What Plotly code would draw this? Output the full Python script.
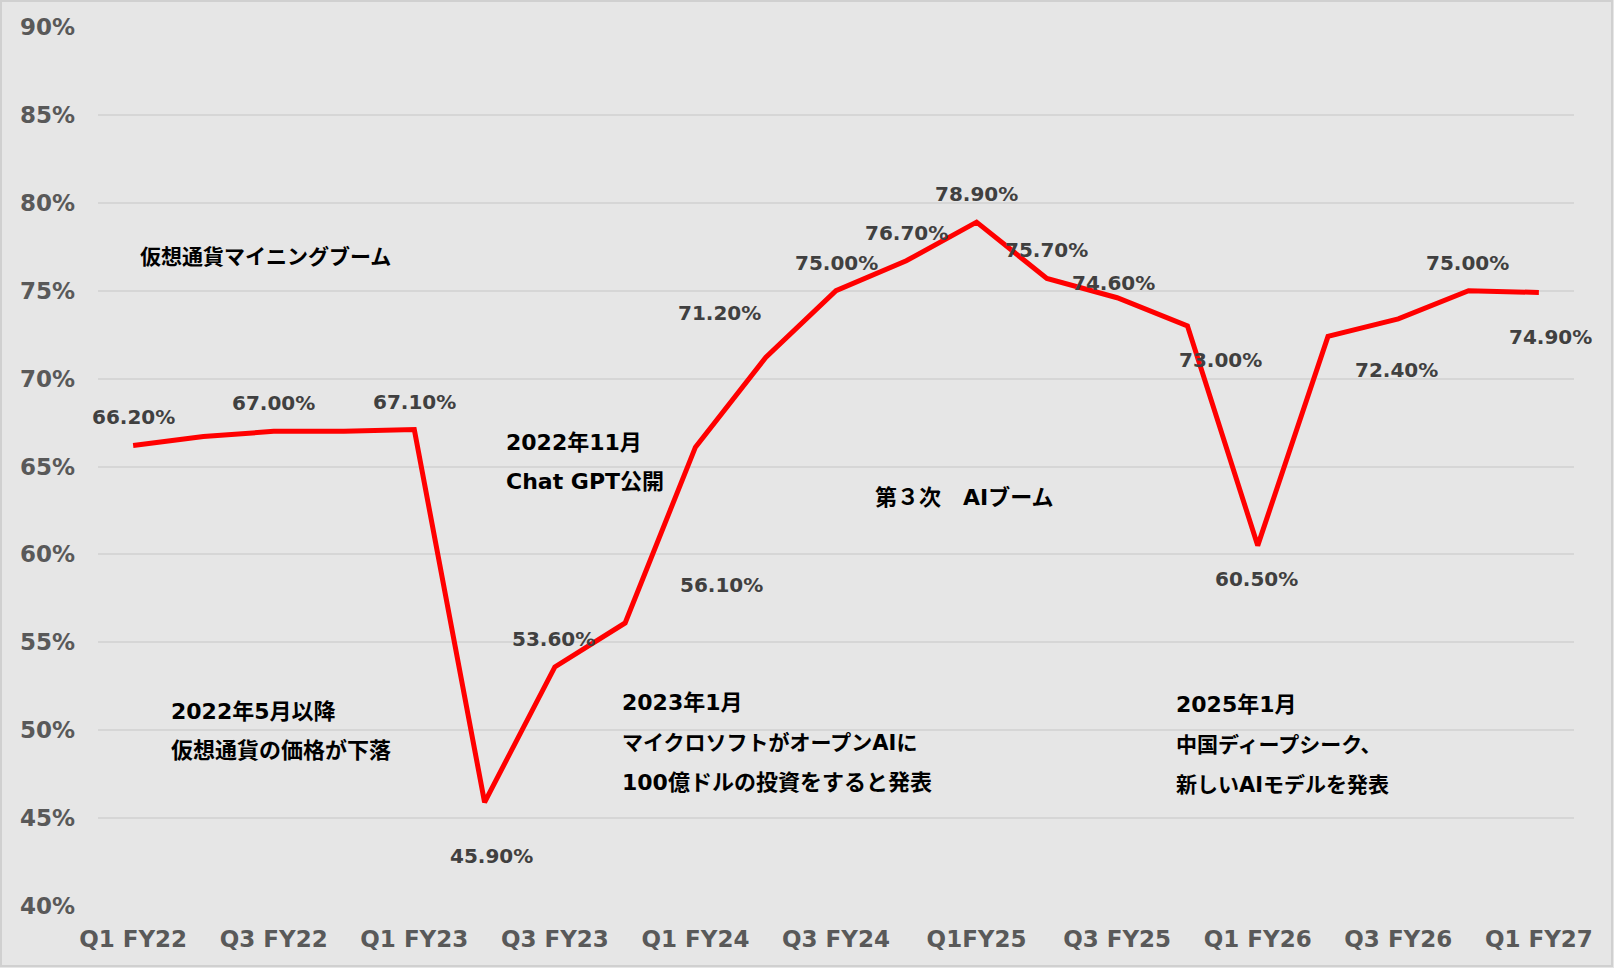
import plotly.graph_objects as go

quarters = ["Q1 FY22", "Q2 FY22", "Q3 FY22", "Q4 FY22",
            "Q1 FY23", "Q2 FY23", "Q3 FY23", "Q4 FY23",
            "Q1 FY24", "Q2 FY24", "Q3 FY24", "Q4 FY24",
            "Q1FY25", "Q2 FY25", "Q3 FY25", "Q4 FY25",
            "Q1 FY26", "Q2 FY26", "Q3 FY26", "Q4 FY26",
            "Q1 FY27"]
margin_pct = [66.2, 66.7, 67.0, 67.0,
              67.1, 45.9, 53.6, 56.1,
              66.1, 71.2, 75.0, 76.7,
              78.9, 75.7, 74.6, 73.0,
              60.5, 72.4, 73.4, 75.0,
              74.9]
y_ticks = [40, 45, 50, 55, 60, 65, 70, 75, 80, 85, 90]
y_tick_text = [f"{v}%" for v in y_ticks]

# which points carry a data label, and the label's pixel offset (dx, dy up)
label_offsets = {0: (0, 28), 2: (0, 28), 4: (0, 28), 5: (7, -54), 6: (-1, 28),
                 7: (96, 38), 9: (-46, 45), 10: (0, 28), 11: (0, 28),
                 12: (0, 28), 13: (0, 28), 14: (-4, 15), 15: (33, -34),
                 16: (-1, -33), 17: (68, -34), 19: (-1, 28), 20: (12, -45)}

notes = [
    ("仮想通貨マイニングブーム", 0.07, 76.92, 21),
    ("2022年5月以降", 0.51, 51.04, 22),
    ("仮想通貨の価格が下落", 0.51, 48.87, 22),
    ("2022年11月", 5.28, 66.34, 22),
    ("Chat GPT公開", 5.28, 64.12, 22),
    ("第３次　AIブーム", 10.53, 63.21, 22),
    ("2023年1月", 6.93, 51.55, 22),
    ("マイクロソフトがオープンAIに", 6.93, 49.27, 21),
    ("100億ドルの投資をすると発表", 6.93, 47.0, 22),
    ("2025年1月", 14.81, 51.44, 22),
    ("中国ディープシーク、", 14.81, 49.16, 21),
    ("新しいAIモデルを発表", 14.81, 46.88, 21),
]

FONT = "DejaVu Sans, Noto Sans CJK JP, sans-serif"
W, H = 1614, 968
ML, MR, MT, MB = 98, 40, 27, 62

fig = go.Figure()
fig.add_trace(go.Scatter(
    x=list(range(len(quarters))), y=margin_pct, mode="lines",
    line=dict(color="#ff0000", width=5), hoverinfo="skip", showlegend=False))

for i, (dx, dy) in label_offsets.items():
    fig.add_annotation(x=i, y=margin_pct[i], text=f"{margin_pct[i]:.2f}%",
                       showarrow=False, xshift=dx, yshift=dy,
                       font=dict(family=FONT, size=20, color="#404040", weight=700))

for txt, x, y, sz in notes:
    fig.add_annotation(x=x, y=y, text=txt, showarrow=False, xanchor="left", yanchor="middle",
                       font=dict(family=FONT, size=sz, color="#000000", weight=700))

pw, ph = W - ML - MR, H - MT - MB
fig.add_shape(type="rect", xref="paper", yref="paper",
              x0=(1 - ML) / pw, x1=(W - 2 - ML) / pw,
              y0=1 - (H - 2 - MT) / ph, y1=1 - (1 - MT) / ph,
              line=dict(color="#d0d0d0", width=2), fillcolor="rgba(0,0,0,0)", layer="below")

fig.update_layout(
    width=W, height=H, margin=dict(l=ML, r=MR, t=MT, b=MB),
    paper_bgcolor="#e6e6e6", plot_bgcolor="#e6e6e6",
    font=dict(family=FONT),
    xaxis=dict(range=[-0.5, len(quarters) - 0.5], tickmode="array",
               tickvals=list(range(0, len(quarters), 2)), ticktext=quarters[::2],
               showgrid=False, zeroline=False, showline=False, ticks="",
               tickfont=dict(family=FONT, size=23, color="#595959", weight=700),
               ticklabelstandoff=17),
    yaxis=dict(range=[40, 90], tickmode="array", tickvals=y_ticks, ticktext=y_tick_text,
               showgrid=True, gridcolor="#d6d6d6", gridwidth=2, zeroline=False,
               showline=False, ticks="",
               tickfont=dict(family=FONT, size=23, color="#595959", weight=700),
               ticklabelstandoff=22),
)

fig.write_html("out.html")
